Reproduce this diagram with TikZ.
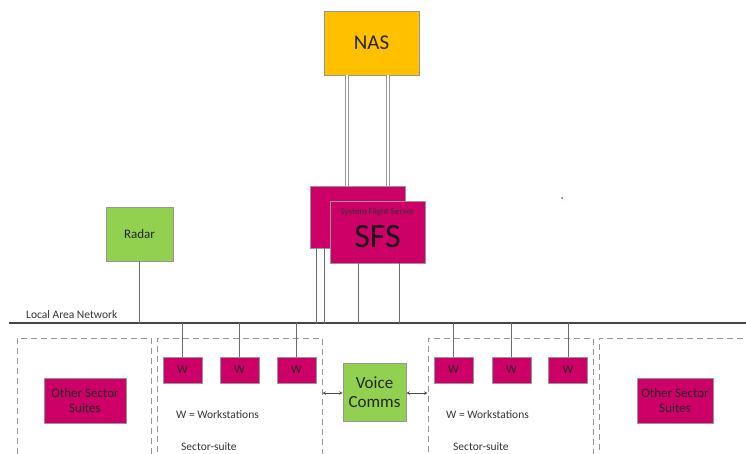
\documentclass[tikz,border=0pt]{standalone}
\usepackage{fontspec}
\setmainfont{Carlito}
\usetikzlibrary{positioning}

\definecolor{sysmagenta}{RGB}{204,0,102}
\definecolor{sysgreen}{RGB}{146,208,80}
\definecolor{sysyellow}{RGB}{255,192,0}
\definecolor{lanline}{RGB}{70,70,70}
\definecolor{boxedge}{RGB}{150,150,150}

\begin{document}
\begin{tikzpicture}[x=1pt, y=-1pt, >=stealth,
    unit/.style={draw=boxedge, line width=0.6pt, inner sep=0pt, align=center, text=black!85},
    server/.style={unit, fill=sysmagenta, minimum width=95pt, minimum height=62pt},
    wbox/.style={unit, fill=sysmagenta, minimum width=39pt, minimum height=26pt, font=\fontsize{12}{12}\selectfont},
    other/.style={unit, fill=sysmagenta, font=\fontsize{13}{15}\selectfont},
    suite/.style={draw=boxedge, line width=1pt, dash pattern=on 6pt off 4pt, minimum height=132pt, inner sep=0pt},
    link/.style={draw=lanline!80, line width=0.9pt},
    trunk/.style={draw=boxedge, line width=0.8pt, double=white, double distance=2.4pt},
    note/.style={font=\fontsize{11.5}{12}\selectfont, text=black!80, inner sep=0pt}]

  \clip (0,0) rectangle (746,453);

  % Top level storage and flight servers
  \node[unit, fill=sysyellow, minimum width=95pt, minimum height=64pt,
        font=\fontsize{21}{21}\selectfont] (nas) at (371.5,43) {NAS};
  \node[server] (sfsback) at (358,217) {};
  \node[server] (sfs) at (377.5,232) {};
  \node[font=\fontsize{9}{10}\selectfont, text=black!80, inner sep=0pt] (sfstitle) at ([yshift=-11pt]sfs.north) {System Flight Server};
  \node[font=\fontsize{34}{34}\selectfont, text=black!90, inner sep=0pt] (sfsname) at ([yshift=-5pt]sfs.center) {SFS};

  \node[unit, fill=sysgreen, minimum width=67pt, minimum height=54pt,
        font=\fontsize{13}{13}\selectfont] (radar) at (139.5,234) {Radar};

  % Local area network backbone
  \coordinate (lan) at (9,323);
  \coordinate (lanend) at (746,323);
  \draw[lanline, line width=2.8pt] (lan) -- (lanend);
  \node[anchor=base west, inner sep=0pt, font=\fontsize{11.5}{12}\selectfont, text=black!80] (lanlabel) at (26,318) {Local Area Network};

  % Sector suites (dashed outlines)
  \node[suite, minimum width=134pt] (suite1) at (84,404) {};
  \node[suite, minimum width=165pt] (suite2) at (239.5,404) {};
  \node[suite, minimum width=165pt] (suite3) at (510.5,404) {};
  \node[suite, minimum width=161pt] (suite4) at (679.5,404) {};

  % Workstations
  \node[wbox] (w1) at (182.5,370) {W};
  \node[wbox] (w2) at (239.5,370) {W};
  \node[wbox] (w3) at (296.5,370) {W};
  \node[wbox] (w4) at (453.5,370) {W};
  \node[wbox] (w5) at (511.5,370) {W};
  \node[wbox] (w6) at (568,370) {W};

  \node[other, minimum width=82pt, minimum height=45pt] (other1) at (85,400.5) {Other Sector\\Suites};
  \node[other, minimum width=76pt, minimum height=45pt] (other2) at (675,400.5) {Other Sector\\Suites};

  \node[unit, fill=sysgreen, minimum width=63pt, minimum height=58pt,
        font=\fontsize{17}{19}\selectfont] (voice) at (374.5,392) {Voice\\Comms};

  \node[note, anchor=west] (legend1) at (176,415) {W = Workstations};
  \node[note, anchor=west] (legend2) at (446,415) {W = Workstations};
  \node[note, anchor=west] (sector1) at (181,447) {Sector-suite};
  \node[note, anchor=west] (sector2) at (453,447) {Sector-suite};

  % NAS trunks down to the server
  \draw[trunk] ([xshift=-24.5pt]nas.south) -- ([xshift=-24.5pt]nas.south |- sfsback.north);
  \draw[trunk] ([xshift=16.5pt]nas.south) -- ([xshift=16.5pt]nas.south |- sfsback.north);

  % Drops onto the LAN
  \draw[link] (radar.south) -- (radar.south |- lan);
  \draw[link] ([xshift=6pt]sfsback.south west) -- ([xshift=6pt]sfsback.south west |- lan);
  \draw[link] ([xshift=14pt]sfsback.south west) -- ([xshift=14pt]sfsback.south west |- lan);
  \draw[link] ([xshift=-19.5pt]sfs.south) -- ([xshift=-19.5pt]sfs.south |- lan);
  \draw[link] ([xshift=21.5pt]sfs.south) -- ([xshift=21.5pt]sfs.south |- lan);
  \draw[link] (w1.north) -- (w1.north |- lan);
  \draw[link] (w2.north) -- (w2.north |- lan);
  \draw[link] (w3.north) -- (w3.north |- lan);
  \draw[link] (w4.north) -- (w4.north |- lan);
  \draw[link] (w5.north) -- (w5.north |- lan);
  \draw[link] (w6.north) -- (w6.north |- lan);

  % Voice links to neighbouring suites
  \draw[<->, lanline, line width=0.6pt] ([yshift=-1pt]voice.west -| suite2.east) -- ([yshift=-1pt]voice.west);
  \draw[<->, lanline, line width=0.6pt] ([yshift=-1pt]voice.east) -- ([yshift=-1pt]voice.east -| suite3.west);

  \fill[blue!70] (562,198) circle (1pt);

\end{tikzpicture}
\end{document}
